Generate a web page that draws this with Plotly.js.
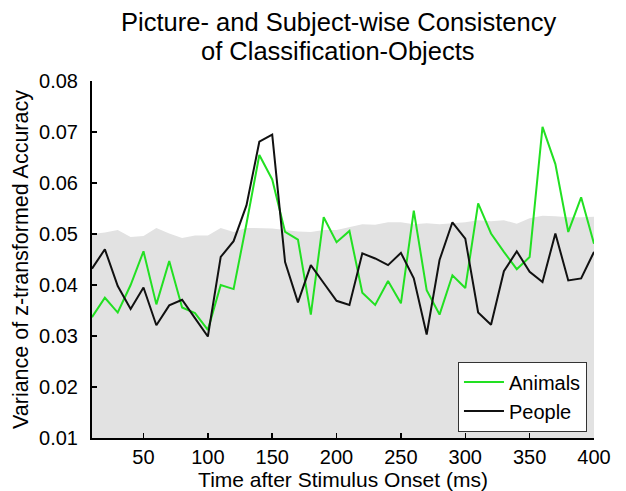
<!DOCTYPE html>
<html>
<head>
<meta charset="utf-8">
<script src="https://cdn.plot.ly/plotly-3.0.1.min.js"></script>
<style>
  html, body { margin: 0; padding: 0; background: #fff; }
  #chart { width: 626px; height: 491px; }
</style>
</head>
<body>
<div id="chart"></div>
<script>
// Time bins (ms after stimulus onset)
const timeMs = [10, 20, 30, 40, 50, 60, 70, 80, 90, 100,
                110, 120, 130, 140, 150, 160, 170, 180, 190, 200,
                210, 220, 230, 240, 250, 260, 270, 280, 290, 300,
                310, 320, 330, 340, 350, 360, 370, 380, 390, 400];

// Variance of z-transformed accuracy, animal pictures
const animals = [0.0337, 0.0375, 0.0346, 0.0400, 0.0466, 0.0362, 0.0447, 0.0356, 0.0345, 0.0312,
                 0.0400, 0.0392, 0.0520, 0.0655, 0.0607, 0.0504, 0.0489, 0.0342, 0.0533, 0.0484,
                 0.0506, 0.0385, 0.0361, 0.0408, 0.0364, 0.0546, 0.0390, 0.0342, 0.0419, 0.0394,
                 0.0560, 0.0501, 0.0465, 0.0431, 0.0455, 0.0710, 0.0637, 0.0504, 0.0572, 0.0481];

// Variance of z-transformed accuracy, people pictures
const people = [0.0432, 0.0470, 0.0398, 0.0353, 0.0395, 0.0321, 0.0360, 0.0371, 0.0335, 0.0299,
                0.0455, 0.0486, 0.0556, 0.0681, 0.0695, 0.0445, 0.0366, 0.0439, 0.0404, 0.0369,
                0.0361, 0.0462, 0.0452, 0.0439, 0.0463, 0.0413, 0.0303, 0.0449, 0.0523, 0.0491,
                0.0346, 0.0322, 0.0427, 0.0466, 0.0426, 0.0406, 0.0501, 0.0409, 0.0413, 0.0465];

// Upper bound of the chance-level band
const chanceBound = [0.0500, 0.0503, 0.0508, 0.0494, 0.0496, 0.0512, 0.0501, 0.0492, 0.0497, 0.0497,
                     0.0512, 0.0504, 0.0512, 0.0512, 0.0511, 0.0508, 0.0505, 0.0504, 0.0508, 0.0508,
                     0.0513, 0.0519, 0.0518, 0.0523, 0.0523, 0.0519, 0.0521, 0.0519, 0.0521, 0.0523,
                     0.0527, 0.0525, 0.0527, 0.0520, 0.0531, 0.0536, 0.0535, 0.0533, 0.0533, 0.0534];

const xTicks = [50, 100, 150, 200, 250, 300, 350, 400];
const yTicks = [0.01, 0.02, 0.03, 0.04, 0.05, 0.06, 0.07, 0.08];

// Title lines (second line set as an annotation for tighter line spacing)
const titleLine1 = 'Picture- and Subject-wise Consistency';
const titleLine2 = 'of Classification-Objects';

const font = { family: 'Liberation Sans, Arial, sans-serif', color: '#000' };
const f = size => Object.assign({ size: size }, font);

const traces = [
  {
    x: timeMs, y: chanceBound, type: 'scatter', mode: 'lines',
    fill: 'tozeroy', fillcolor: '#e2e2e2',
    line: { width: 0, color: '#e2e2e2' },
    showlegend: false, hoverinfo: 'skip'
  },
  {
    x: timeMs, y: animals, type: 'scatter', mode: 'lines', name: 'Animals',
    line: { color: '#22e022', width: 2 }
  },
  {
    x: timeMs, y: people, type: 'scatter', mode: 'lines', name: 'People',
    line: { color: '#111', width: 2 }
  }
];

const layout = {
  width: 626, height: 491,
  margin: { l: 92, r: 32, t: 81, b: 53 },
  paper_bgcolor: '#fff', plot_bgcolor: '#fff',
  font: f(20),
  title: {
    text: titleLine1,
    font: f(25.5),
    xref: 'container', yref: 'container',
    x: 0.541, xanchor: 'center', y: 0.974, yanchor: 'top'
  },
  annotations: [{
    text: titleLine2, font: f(25.5), showarrow: false,
    xref: 'paper', yref: 'paper', x: 0.49, y: 1.04,
    xanchor: 'center', yanchor: 'bottom'
  }],
  xaxis: {
    range: [10, 400], tickvals: xTicks, ticktext: xTicks.map(String),
    ticks: 'inside', ticklen: 5, tickwidth: 1.5, tickcolor: '#000',
    showline: true, linecolor: '#000', linewidth: 2, showgrid: false, zeroline: false,
    tickfont: f(20),
    title: { text: 'Time after Stimulus Onset (ms)', font: f(21), standoff: 0 }
  },
  yaxis: {
    range: [0.01, 0.08], tickvals: yTicks, ticktext: yTicks.map(v => v.toFixed(2)),
    ticks: 'inside', ticklen: 5, tickwidth: 1.5, tickcolor: '#000',
    showline: true, linecolor: '#000', linewidth: 2, showgrid: false, zeroline: false,
    tickfont: f(20), ticklabelstandoff: 8,
    title: { text: 'Variance of z-transformed Accuracy', font: f(21.5), standoff: 5 }
  },
  legend: {
    x: 0.986, xanchor: 'right', y: 0.018, yanchor: 'bottom',
    bgcolor: '#fff', bordercolor: '#333', borderwidth: 1,
    font: f(20),
    tracegroupgap: 0, itemwidth: 40
  },
  showlegend: true
};

Plotly.newPlot('chart', traces, layout, { displayModeBar: false, staticPlot: true });
</script>
</body>
</html>
